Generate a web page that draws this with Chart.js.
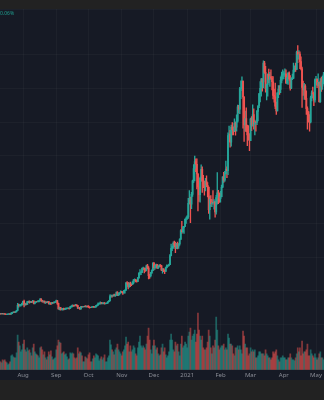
<!DOCTYPE html>
<html>
<head>
<meta charset="utf-8">
<script src="https://cdn.jsdelivr.net/npm/chart.js@4/dist/chart.umd.min.js"></script>
<style>
  html, body { margin: 0; padding: 0; background: #222222; width: 324px; height: 400px; overflow: hidden; }
  #pane { position: absolute; left: 0; top: 9px; width: 324px; height: 371px; background: #161a25; }
  #chart { position: absolute; left: 0; top: 9px; }
  #chg { position: absolute; left: 0; top: 10px; font: 5px "Noto Sans", sans-serif; color: #1f9e8f; }
</style>
</head>
<body>
<div id="pane"></div>
<canvas id="chart" width="324" height="372"></canvas>
<span id="chg">0.06%</span>
<script>
// daily candles, 10 Jul 2020 .. 8 May 2021, prices in k$
const firstOpen = 9.25;
const closes = [
  9.29, 9.24, 9.30, 9.24, 9.25, 9.19, 9.13, 9.15, 9.18, 9.21, 9.16, 9.39, 9.54, 9.61, 9.55, 9.71, 9.93, 11.00, 10.91, 11.10, 11.11, 11.35,
  11.80, 11.07, 11.23, 11.19, 11.74, 11.76, 11.60, 11.75, 11.68, 11.88, 11.41, 11.58, 11.78, 11.77, 11.87, 11.91, 12.25, 11.99, 11.73, 11.86, 11.52, 11.68, 11.65, 11.77, 11.33, 11.47, 11.32, 11.54, 11.51, 11.68, 11.68,
  11.97, 11.41, 10.25, 10.51, 10.17, 10.28, 10.37, 10.13, 10.24, 10.36, 10.40, 10.44, 10.33, 10.68, 10.79, 10.95, 10.94, 10.93, 11.08, 10.92, 10.42, 10.54, 10.24, 10.74, 10.69, 10.73, 10.77, 10.71, 10.84, 10.78,
  10.62, 10.57, 10.55, 10.67, 10.79, 10.60, 10.67, 10.92, 11.06, 11.30, 11.38, 11.54, 11.43, 11.43, 11.50, 11.32, 11.36, 11.48, 11.74, 11.92, 12.82, 12.97, 12.93, 13.11, 13.03, 13.07, 13.65, 13.27, 13.46, 13.56, 13.80,
  13.76, 13.55, 14.03, 14.15, 15.59, 15.58, 14.83, 15.48, 15.33, 15.31, 15.70, 16.28, 16.32, 16.07, 15.96, 16.72, 17.65, 17.80, 17.82, 18.68, 18.71, 18.42, 18.37, 19.16, 18.74, 17.15, 17.14, 17.72, 18.18, 19.70,
  18.79, 19.22, 19.45, 18.70, 19.15, 19.36, 19.17, 18.32, 18.55, 18.25, 18.03, 18.80, 19.16, 19.27, 19.44, 21.31, 22.80, 23.13, 23.86, 23.48, 22.75, 23.82, 23.24, 23.73, 24.71, 26.49, 26.28, 27.08, 27.36, 28.84, 29.00,
  29.37, 32.13, 32.78, 31.97, 33.99, 36.82, 39.37, 40.80, 40.25, 38.24, 35.54, 33.92, 37.32, 39.19, 36.83, 36.18, 35.79, 36.63, 35.89, 35.47, 30.83, 32.99, 32.07, 32.29, 32.26, 32.47, 30.36, 33.36, 34.32, 34.28, 33.11,
  33.51, 35.48, 37.62, 36.94, 38.29, 39.25, 38.90, 46.20, 46.48, 44.83, 47.97, 47.41, 47.23, 48.72, 47.94, 49.20, 52.15, 51.68, 55.89, 55.92, 57.49, 54.21, 48.38, 49.71, 47.10, 46.34, 46.19, 45.14,
  49.63, 48.38, 50.54, 48.56, 48.93, 48.91, 51.21, 52.38, 54.88, 55.96, 57.81, 57.33, 61.24, 59.30, 55.91, 56.80, 58.87, 57.86, 58.35, 58.10, 57.35, 54.53, 54.21, 52.30, 51.31, 55.03, 55.85, 55.77, 57.63, 58.73, 58.92,
  58.97, 59.00, 57.09, 58.21, 59.13, 57.99, 56.00, 58.09, 58.09, 59.77, 60.20, 59.89, 63.50, 62.99, 63.11, 61.53, 60.05, 56.15, 55.63, 56.47, 53.91, 51.76, 51.09, 50.05, 49.00, 54.02, 55.03, 54.82, 53.56, 57.75,
  57.83, 56.63, 57.21, 53.24, 57.47, 56.43, 57.36, 58.80
];
const highs = [
  9.32, 9.31, 9.34, 9.34, 9.28, 9.26, 9.20, 9.19, 9.21, 9.24, 9.22, 9.42, 9.56, 9.64, 9.63, 9.73, 9.96, 11.39, 11.24, 11.18, 11.16, 11.45,
  11.86, 12.07, 11.47, 11.42, 11.80, 11.90, 11.92, 11.80, 11.84, 12.05, 11.93, 11.67, 11.79, 11.85, 11.98, 11.93, 12.45, 12.40, 12.03, 11.88, 11.90, 11.70, 11.70, 11.80, 11.79, 11.53, 11.58, 11.55, 11.59, 11.70, 11.73,
  12.07, 11.99, 11.46, 10.63, 10.58, 10.36, 10.39, 10.43, 10.35, 10.48, 10.43, 10.47, 10.45, 10.79, 10.93, 11.09, 11.05, 11.03, 11.18, 11.08, 10.99, 10.57, 10.56, 10.77, 10.76, 10.79, 10.80, 10.94, 10.85, 10.86,
  10.92, 10.67, 10.59, 10.69, 10.80, 10.80, 10.68, 10.93, 11.10, 11.49, 11.43, 11.70, 11.56, 11.55, 11.52, 11.54, 11.40, 11.49, 11.79, 12.00, 13.19, 13.16, 13.01, 13.16, 13.33, 13.23, 13.79, 13.83, 13.61, 13.63, 14.02,
  13.89, 13.82, 14.07, 14.23, 15.74, 15.93, 15.76, 15.66, 15.83, 15.46, 15.94, 16.33, 16.48, 16.32, 16.12, 16.82, 17.77, 18.39, 18.12, 18.79, 18.95, 18.71, 18.72, 19.35, 19.48, 19.01, 17.42, 17.83, 18.34, 19.86,
  19.92, 19.31, 19.56, 19.52, 19.20, 19.41, 19.42, 19.29, 18.63, 18.56, 18.28, 18.95, 19.41, 19.35, 19.53, 21.56, 23.70, 23.28, 24.17, 24.30, 24.10, 23.84, 24.10, 23.77, 24.79, 26.72, 28.42, 27.39, 27.37, 28.94, 29.30,
  29.60, 33.16, 34.78, 33.44, 34.44, 36.94, 40.18, 41.95, 41.36, 41.35, 38.26, 36.63, 37.60, 40.10, 39.70, 37.93, 36.78, 37.30, 37.85, 36.42, 35.55, 33.63, 33.74, 32.94, 34.80, 32.92, 32.56, 33.78, 38.53, 34.83, 34.29,
  34.64, 35.90, 37.66, 38.59, 38.76, 40.88, 39.72, 46.75, 48.14, 47.26, 48.37, 48.86, 48.01, 49.64, 49.01, 50.50, 52.50, 52.46, 56.20, 57.54, 58.35, 57.45, 54.14, 51.27, 51.95, 48.37, 48.25, 46.62,
  49.79, 50.13, 52.58, 51.75, 49.40, 49.20, 51.40, 52.36, 54.90, 57.39, 58.06, 58.00, 61.68, 61.57, 60.53, 56.87, 58.98, 60.00, 59.30, 59.82, 58.47, 58.40, 55.82, 57.08, 53.13, 55.07, 56.57, 56.57, 58.36, 59.37, 59.80,
  59.47, 60.05, 59.80, 58.61, 59.23, 59.38, 58.63, 58.15, 58.94, 61.20, 60.66, 61.20, 63.73, 64.86, 63.80, 63.56, 62.50, 60.40, 57.50, 57.00, 56.74, 55.47, 52.13, 51.17, 50.55, 54.36, 55.46, 56.23, 55.20, 57.96,
  58.47, 57.98, 59.00, 57.20, 58.00, 58.30, 58.50, 59.30
];
const lows = [
  9.20, 9.18, 9.19, 9.21, 9.17, 9.13, 9.09, 9.09, 9.13, 9.14, 9.13, 9.15, 9.29, 9.48, 9.50, 9.53, 9.65, 9.92, 10.63, 10.83, 10.83, 10.98,
  11.23, 10.66, 11.02, 11.07, 11.18, 11.55, 11.42, 11.54, 11.55, 11.64, 11.29, 11.28, 11.54, 11.69, 11.69, 11.71, 11.87, 11.86, 11.65, 11.70, 11.50, 11.41, 11.57, 11.58, 11.23, 11.19, 11.15, 11.30, 11.43, 11.47, 11.57,
  11.66, 11.21, 10.18, 10.05, 10.00, 10.03, 10.00, 10.02, 10.11, 10.22, 10.27, 10.35, 10.20, 10.33, 10.62, 10.67, 10.78, 10.84, 10.88, 10.81, 10.38, 10.35, 10.16, 10.21, 10.63, 10.65, 10.67, 10.69, 10.63, 10.67,
  10.55, 10.40, 10.51, 10.51, 10.63, 10.56, 10.58, 10.63, 10.80, 11.00, 11.25, 11.26, 11.28, 11.30, 11.27, 11.24, 11.30, 11.32, 11.41, 11.70, 11.90, 12.69, 12.71, 12.90, 12.90, 12.84, 13.03, 12.99, 13.02, 13.16, 13.51,
  13.62, 13.25, 13.51, 13.54, 14.09, 15.19, 14.40, 14.74, 14.86, 15.09, 15.28, 15.50, 15.99, 15.84, 15.80, 15.88, 16.56, 17.28, 17.36, 17.77, 18.36, 17.74, 18.02, 18.15, 18.61, 16.49, 16.55, 16.88, 17.60, 18.18,
  18.32, 18.47, 18.91, 18.64, 18.66, 18.93, 19.02, 18.20, 17.65, 17.96, 17.57, 18.03, 18.77, 19.00, 19.18, 19.43, 21.22, 22.35, 22.82, 23.08, 21.91, 22.74, 22.70, 22.79, 23.46, 24.61, 25.92, 26.10, 25.92, 27.32, 27.97,
  28.80, 29.03, 32.00, 28.13, 31.02, 33.55, 36.43, 36.80, 38.70, 35.14, 30.55, 32.53, 32.36, 36.70, 34.41, 35.40, 33.85, 34.73, 35.60, 33.45, 30.07, 28.85, 31.50, 31.45, 31.97, 30.91, 29.27, 29.87, 31.99, 32.07, 32.34,
  32.38, 33.45, 35.41, 36.50, 36.66, 38.22, 37.45, 38.08, 45.00, 43.80, 43.98, 46.35, 46.31, 47.01, 46.29, 47.09, 48.99, 50.90, 50.75, 53.86, 55.48, 47.71, 45.00, 47.12, 46.99, 44.10, 45.27, 43.04,
  45.11, 47.22, 48.15, 47.50, 46.30, 47.10, 48.43, 49.24, 51.99, 53.16, 54.35, 55.38, 56.08, 59.05, 55.20, 53.57, 54.38, 57.18, 56.37, 57.81, 55.65, 53.78, 53.09, 51.78, 50.55, 51.30, 54.04, 54.70, 55.10, 57.10, 57.95,
  57.95, 58.43, 57.01, 56.90, 56.78, 57.70, 55.60, 55.90, 57.80, 58.00, 59.40, 59.50, 59.90, 61.30, 62.02, 60.06, 59.80, 52.00, 54.50, 53.70, 53.61, 50.57, 47.50, 48.98, 47.10, 48.82, 53.35, 53.99, 52.40, 53.09,
  57.07, 56.12, 56.45, 53.14, 53.08, 55.33, 55.75, 56.90
];
const volumes = [
  9, 8, 7, 10, 9, 10, 8, 7, 5, 6, 8, 14, 15, 13, 12, 12, 17, 35, 28, 24, 18, 20,
  26, 30, 20, 18, 22, 19, 20, 17, 14, 22, 26, 18, 16, 15, 14, 12, 22, 23, 20, 15, 18, 12, 10, 13, 18, 15, 19, 13, 10, 11, 12,
  20, 24, 30, 28, 27, 16, 17, 18, 15, 16, 13, 10, 11, 17, 16, 17, 16, 12, 11, 12, 22, 16, 18, 17, 14, 8, 8, 13, 12, 11,
  15, 17, 8, 8, 11, 14, 12, 16, 15, 14, 9, 11, 13, 10, 12, 15, 8, 8, 12, 14, 30, 25, 20, 18, 15, 20, 22, 26, 20, 18, 16,
  14, 18, 20, 24, 33, 26, 28, 18, 24, 18, 20, 24, 22, 16, 14, 22, 28, 34, 24, 22, 24, 22, 20, 26, 34, 42, 30, 20, 16, 24,
  30, 24, 20, 22, 16, 14, 15, 22, 26, 18, 22, 15, 12, 14, 18, 30, 36, 30, 20, 18, 28, 24, 26, 18, 14, 26, 34, 22, 24, 28, 26,
  22, 34, 38, 42, 30, 34, 36, 40, 28, 36, 57, 40, 34, 30, 34, 22, 20, 20, 22, 28, 40, 34, 22, 16, 24, 22, 30, 53, 40, 24, 20,
  22, 24, 24, 26, 20, 22, 20, 36, 32, 26, 26, 24, 16, 14, 22, 22, 24, 20, 24, 20, 16, 39, 34, 26, 22, 22, 14, 16,
  22, 18, 20, 18, 20, 12, 12, 14, 18, 18, 16, 16, 16, 14, 20, 16, 14, 12, 12, 10, 12, 18, 16, 18, 20, 14, 10, 8, 12, 12, 14,
  12, 12, 10, 10, 12, 12, 16, 12, 10, 10, 9, 12, 16, 22, 18, 22, 14, 29, 16, 18, 18, 20, 26, 14, 14, 20, 16, 14, 12, 16,
  12, 10, 12, 16, 18, 12, 12, 10
];
const monthTicks = [22, 53, 83, 114, 144, 175, 206, 234, 265, 295];
const monthLabels = ['Aug', 'Sep', 'Oct', 'Nov', 'Dec', '2021', 'Feb', 'Mar', 'Apr', 'May'];

const UP = '#26a69a', DOWN = '#ef5350';
const opens = closes.map((c, i) => i ? closes[i - 1] : firstOpen);
const isUp = closes.map((c, i) => c >= opens[i]);

const wicks = closes.map((c, i) => ({ x: i, y: [Math.min(lows[i], opens[i], c), Math.max(highs[i], opens[i], c)] }));
const bodies = closes.map((c, i) => ({ x: i, y: [opens[i], c] }));
const vols = volumes.map((v, i) => ({ x: i, y: v }));

const grid = 'rgba(255,255,255,0.03)';

new Chart(document.getElementById('chart'), {
  type: 'bar',
  data: {
    datasets: [
      {
        data: bodies, yAxisID: 'y', order: 1, grouped: false, barThickness: 1.2,
        backgroundColor: isUp.map(u => u ? UP : DOWN)
      },
      {
        data: wicks, yAxisID: 'y', order: 2, grouped: false, barThickness: 0.7,
        backgroundColor: isUp.map(u => u ? UP : DOWN)
      },
      {
        data: vols, yAxisID: 'v', order: 3, grouped: false, barThickness: 1.1,
        backgroundColor: isUp.map(u => u ? 'rgba(38,166,154,0.5)' : 'rgba(239,83,80,0.5)')
      }
    ]
  },
  options: {
    responsive: false,
    animation: false,
    devicePixelRatio: 1,
    layout: { padding: 0 },
    plugins: { legend: { display: false }, tooltip: { enabled: false } },
    scales: {
      x: {
        type: 'linear', min: 0.57, max: 302.44, offset: false,
        afterBuildTicks: axis => { axis.ticks = monthTicks.map(v => ({ value: v })); },
        ticks: {
          color: '#8b8e97', padding: 2, maxRotation: 0, autoSkip: false,
          font: { family: 'Noto Sans', size: 6 },
          callback: (v) => monthLabels[monthTicks.indexOf(v)]
        },
        grid: { color: grid, drawTicks: false, offset: false },
        border: { display: false }
      },
      y: {
        position: 'right', min: -2.37, max: 72.43,
        ticks: { display: false, stepSize: 7 },
        grid: { color: grid, drawTicks: false },
        border: { display: false }
      },
      v: { display: false, min: 0, max: 363 }
    }
  }
});
</script>
</body>
</html>
